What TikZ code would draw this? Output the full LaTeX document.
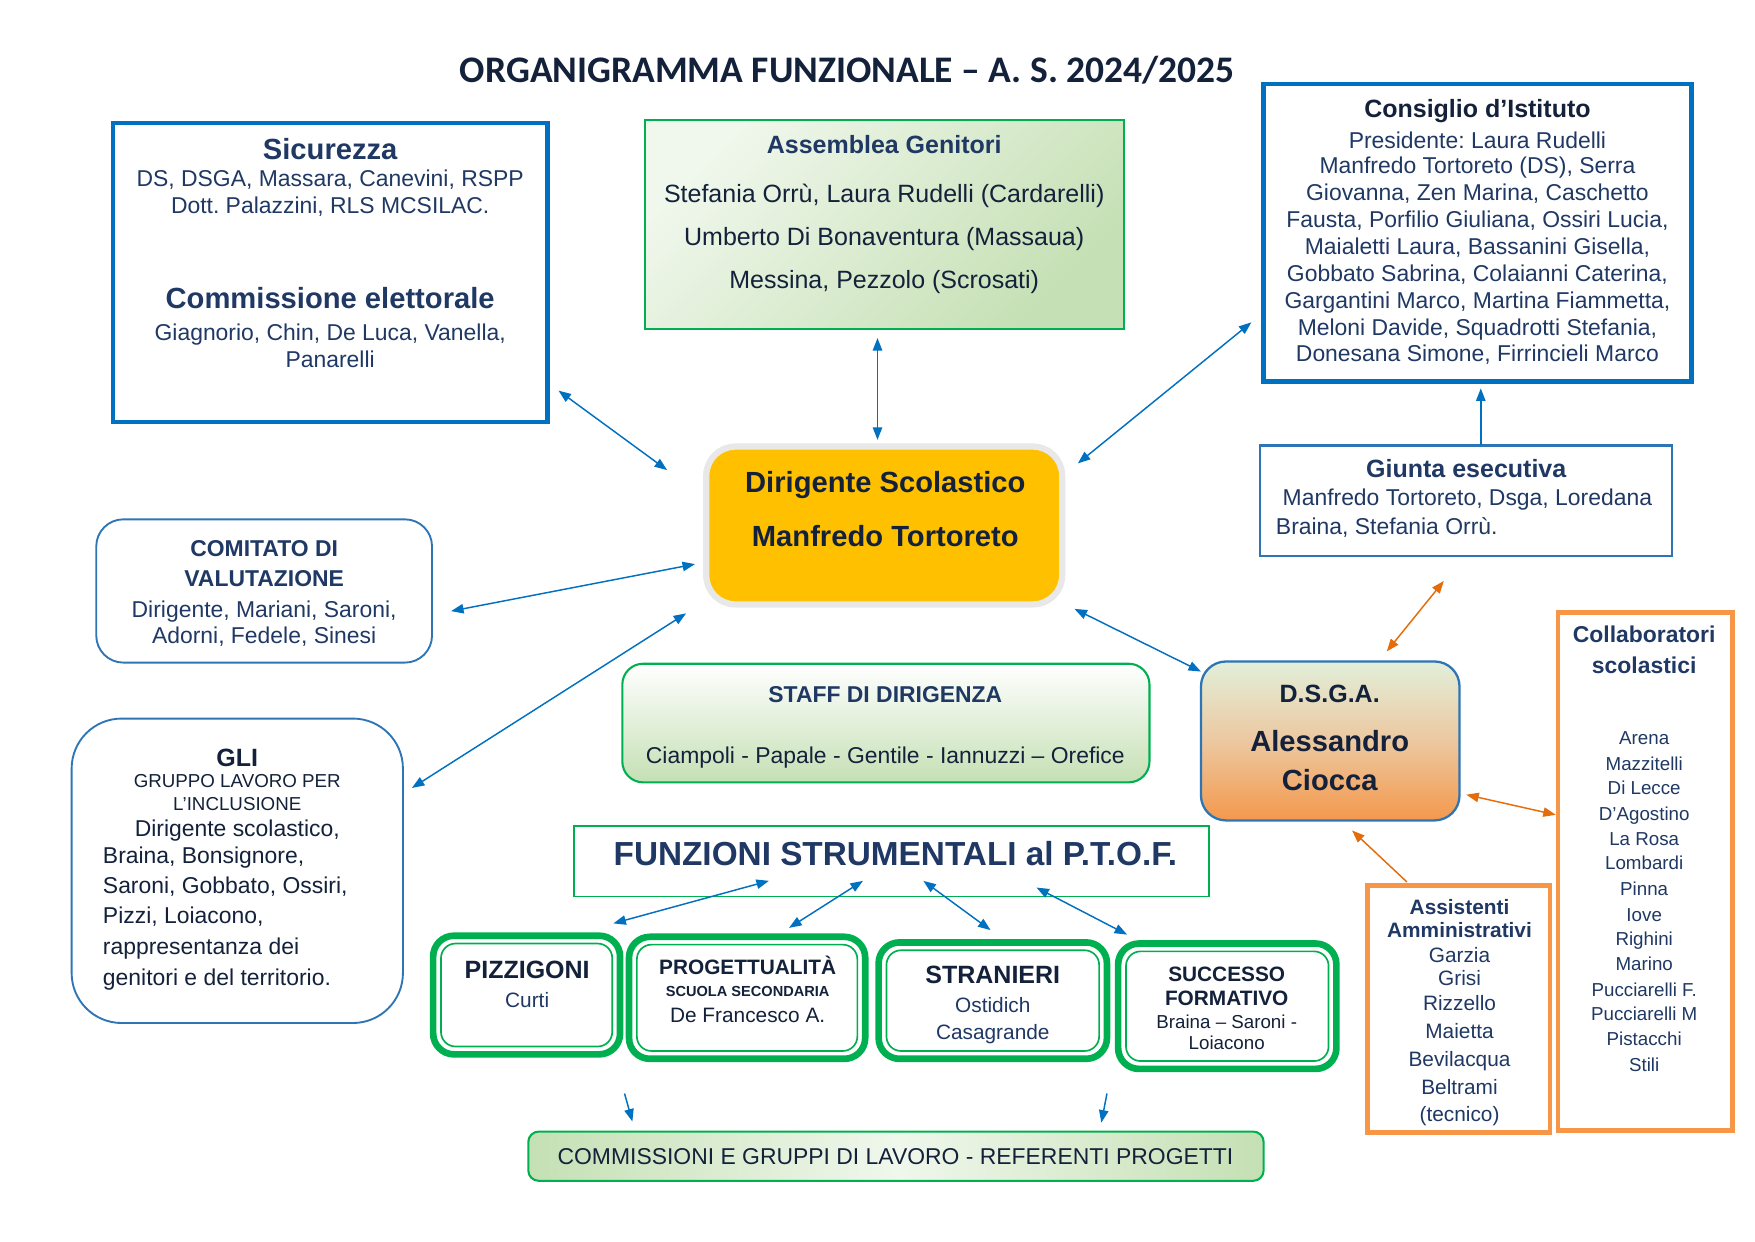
\documentclass[tikz,border=0pt]{standalone}
\usepackage{fontspec}
\setmainfont{Liberation Sans}
\newfontfamily\titlefont{Carlito}
\usetikzlibrary{arrows.meta,calc}
\frenchspacing
\definecolor{navy}{RGB}{31,56,100}
\definecolor{darknavy}{RGB}{19,33,58}
\definecolor{tblue}{RGB}{0,112,192}
\definecolor{mblue}{RGB}{46,117,182}
\definecolor{gr}{RGB}{0,176,80}
\definecolor{lgr}{RGB}{197,224,180}
\definecolor{llgr}{RGB}{240,247,236}
\definecolor{orn}{RGB}{247,150,70}
\definecolor{orarrow}{RGB}{228,108,10}
\definecolor{dsyel}{RGB}{255,192,0}
\definecolor{dsgray}{RGB}{232,232,232}
\definecolor{dsgatop}{RGB}{226,239,218}
\definecolor{dsgamid}{RGB}{236,200,160}
\definecolor{dsgabot}{RGB}{244,152,76}
\newcommand\TL[8]{\node[anchor=#2,inner sep=0pt,text=#7,font=\fontsize{#5}{#5}\selectfont#6] (#1) at (#3,{#4+0.67*#5}) {#8};}
\newcommand\BX[6]{\node[#2,minimum width={(#5-#3)*0.5373pt},minimum height={(#6-#4)*0.5373pt}] (#1) at ({(#3+#5)/2},{(#4+#6)/2}) {};}
\tikzset{
  every node/.style={inner sep=0pt,outer sep=0pt},
  thickblue/.style={draw=tblue,line width=2.2pt,rectangle},
  thinblue/.style={draw=mblue,line width=1.1pt,rectangle},
  roundblue/.style={draw=mblue,line width=0.9pt,rectangle,rounded corners=13pt},
  gliblue/.style={draw=mblue,line width=0.9pt,rectangle,rounded corners=24pt},
  assbox/.style={draw=gr,line width=1pt,rectangle,top color=llgr,bottom color=lgr,shading angle=45},
  staffbox/.style={draw=gr,line width=1pt,rectangle,rounded corners=10pt,top color=white,bottom color=lgr},
  funzbox/.style={draw=gr,line width=0.8pt,rectangle},
  dsbox/.style={draw=dsgray,line width=3pt,fill=dsyel,rectangle,rounded corners=14pt},
  dsgabox/.style={draw=mblue,line width=1.1pt,rectangle,rounded corners=12pt,top color=dsgatop,bottom color=dsgabot,middle color=dsgamid},
  orbox/.style={draw=orn,line width=2.2pt,rectangle},
  gout/.style={draw=gr,line width=3.2pt,rectangle,rounded corners=10pt},
  gin/.style={draw=gr,line width=0.8pt,rectangle,rounded corners=7pt},
  commbox/.style={draw=gr,line width=1pt,rectangle,rounded corners=5pt,left color=lgr,right color=lgr,middle color=llgr},
  barr/.style={draw=tblue,line width=0.7pt,>={Triangle[length=6pt,width=4.5pt]},<->},
  sarr/.style={draw=tblue,line width=0.7pt,>={Triangle[length=6pt,width=4.5pt]},->},
  oarr/.style={draw=orarrow,line width=0.7pt,>={Triangle[length=6pt,width=4.5pt]},<->},
  soarr/.style={draw=orarrow,line width=0.7pt,>={Triangle[length=6pt,width=4.5pt]},->},
}
\begin{document}
\begin{tikzpicture}[x=0.5373pt,y=-0.5373pt]
\useasboundingbox (0,0) rectangle (1568,1109);
\fill[white] (0,0) rectangle (1568,1109);

% title
\node[anchor=base,text=darknavy,font=\titlefont\fontsize{18}{18}\selectfont\bfseries] (title) at (757,{62+0.67*18}) {ORGANIGRAMMA FUNZIONALE – A. S. 2024/2025};

% Sicurezza
\BX{sic}{thickblue}{101}{110}{489}{377}
\TL{sic1}{base}{295}{133}{14}{\bfseries}{navy}{Sicurezza}
\TL{sic2}{base}{295}{159}{11}{}{navy}{DS, DSGA, Massara, Canevini, RSPP}
\TL{sic3}{base}{295}{183}{11}{}{navy}{Dott. Palazzini, RLS MCSILAC.}
\TL{sic4}{base}{295}{266}{14}{\bfseries}{navy}{Commissione elettorale}
\TL{sic5}{base}{295}{297}{11}{}{navy}{Giagnorio, Chin, De Luca, Vanella,}
\TL{sic6}{base}{295}{321}{11}{}{navy}{Panarelli}

% Assemblea
\BX{ass}{assbox}{576}{107}{1004}{294}
\TL{ass1}{base}{790}{129}{12}{\bfseries}{navy}{Assemblea Genitori}
\TL{ass2}{base}{790}{173}{12}{}{darknavy}{Stefania Orrù, Laura Rudelli (Cardarelli)}
\TL{ass3}{base}{790}{211}{12}{}{darknavy}{Umberto Di Bonaventura (Massaua)}
\TL{ass4}{base}{790}{250}{12}{}{darknavy}{Messina, Pezzolo (Scrosati)}

% Consiglio
\BX{con}{thickblue}{1129}{75}{1511}{341}
\TL{con0}{base}{1320}{97}{12}{\bfseries}{darknavy}{Consiglio d’Istituto}
\foreach \tx/\yy [count=\k] in {Presidente: Laura Rudelli/125,Manfredo Tortoreto (DS){,} Serra/148,Giovanna{,} Zen Marina{,} Caschetto/172,Fausta{,} Porfilio Giuliana{,} Ossiri Lucia{,}/196,Maialetti Laura{,} Bassanini Gisella{,}/220,Gobbato Sabrina{,} Colaianni Caterina{,}/244,Gargantini Marco{,} Martina Fiammetta{,}/268,Meloni Davide{,} Squadrotti Stefania{,}/292,Donesana Simone{,} Firrincieli Marco/316}
  {\TL{con\k}{base}{1320}{\yy}{11}{}{navy}{\tx}}

% Dirigente
\BX{ds}{dsbox}{631}{399}{949}{540}
\TL{ds1}{base}{791}{431}{14}{\bfseries}{darknavy}{Dirigente Scolastico}
\TL{ds2}{base}{791}{479}{14}{\bfseries}{darknavy}{Manfredo Tortoreto}

% Giunta
\BX{giu}{thinblue}{1126}{398}{1494}{497}
\TL{giu1}{base}{1310}{419}{12}{\bfseries}{navy}{Giunta esecutiva}
\TL{giu2}{base west}{1146}{444}{11}{}{navy}{Manfredo Tortoreto, Dsga, Loredana}
\TL{giu3}{base west}{1140}{470}{11}{}{navy}{Braina, Stefania Orrù.}

% Comitato
\BX{com}{roundblue}{86}{464}{386}{592}
\TL{com1}{base}{236}{490}{11}{\bfseries}{navy}{COMITATO DI}
\TL{com2}{base}{236}{517}{11}{\bfseries}{navy}{VALUTAZIONE}
\TL{com3}{base}{236}{544}{11}{}{navy}{Dirigente, Mariani, Saroni,}
\TL{com4}{base}{236}{568}{11}{}{navy}{Adorni, Fedele, Sinesi}

% GLI
\BX{gli}{gliblue}{64}{642}{360}{914}
\TL{gli1}{base}{212}{677}{12}{\bfseries}{darknavy}{GLI}
\TL{gli2}{base}{212}{698}{9}{}{darknavy}{GRUPPO LAVORO PER}
\TL{gli3}{base}{212}{718}{9}{}{darknavy}{L'INCLUSIONE}
\TL{gli4}{base}{212}{740}{11}{}{darknavy}{Dirigente scolastico,}
\TL{gli5}{base west}{92}{764}{11}{}{darknavy}{Braina, Bonsignore,}
\TL{gli6}{base west}{92}{791}{11}{}{darknavy}{Saroni, Gobbato, Ossiri,}
\TL{gli7}{base west}{92}{818}{11}{}{darknavy}{Pizzi, Loiacono,}
\TL{gli8}{base west}{92}{845}{11}{}{darknavy}{rappresentanza dei}
\TL{gli9}{base west}{92}{873}{11}{}{darknavy}{genitori e del territorio.}

% Staff
\BX{sta}{staffbox}{556}{593}{1027}{699}
\TL{sta1}{base}{791}{620}{11}{\bfseries}{navy}{STAFF DI DIRIGENZA}
\TL{sta2}{base}{791}{675}{11}{}{darknavy}{Ciampoli - Papale - Gentile - Iannuzzi – Orefice}

% DSGA
\BX{dsga}{dsgabox}{1073}{591}{1304}{733}
\TL{dsga1}{base}{1188}{620}{12}{\bfseries}{darknavy}{D.S.G.A.}
\TL{dsga2}{base}{1188}{662}{14}{\bfseries}{darknavy}{Alessandro}
\TL{dsga3}{base}{1188}{697}{14}{\bfseries}{darknavy}{Ciocca}

% Collaboratori
\BX{col}{orbox}{1392}{547}{1548}{1010}
\TL{colt1}{base}{1469}{567}{11}{\bfseries}{navy}{Collaboratori}
\TL{colt2}{base}{1469}{594}{11}{\bfseries}{navy}{scolastici}
\foreach \nm/\yy [count=\k] in {Arena/659,Mazzitelli/682,Di Lecce/704,D’Agostino/727,La Rosa/749,Lombardi/771,Pinna/794,Iove/817,Righini/839,Marino/861,Pucciarelli F./884,Pucciarelli M/906,Pistacchi/928,Stili/951}
  {\TL{col\k}{base}{1469}{\yy}{9}{}{navy}{\nm}}

% Assistenti
\BX{asi}{orbox}{1222}{791}{1385}{1012}
\TL{asit1}{base}{1304}{810}{10}{\bfseries}{navy}{Assistenti}
\TL{asit2}{base}{1304}{831}{10}{\bfseries}{navy}{Amministrativi}
\foreach \nm/\yy [count=\k] in {Garzia/853,Grisi/874,Rizzello/896,Maietta/921,Bevilacqua/946,Beltrami/971,(tecnico)/995}
  {\TL{asi\k}{base}{1304}{\yy}{10}{}{navy}{\nm}}

% Funzioni
\BX{fun}{funzbox}{513}{738}{1080}{801}
\TL{fun1}{base}{800}{763}{16}{\bfseries}{navy}{FUNZIONI STRUMENTALI al P.T.O.F.}

% green double boxes
\BX{piz}{gout}{387}{836}{554}{942}
\BX{pizi}{gin}{394}{843}{547}{935}
\TL{piz1}{base}{471}{866}{12}{\bfseries}{darknavy}{PIZZIGONI}
\TL{piz2}{base}{471}{893}{10}{}{navy}{Curti}

\BX{pro}{gout}{562}{837}{773}{946}
\BX{proi}{gin}{569}{844}{766}{939}
\TL{pro1}{base}{668}{864}{10}{\bfseries}{darknavy}{PROGETTUALITÀ}
\TL{pro2}{base}{668}{886}{7}{\bfseries}{darknavy}{SCUOLA SECONDARIA}
\TL{pro3}{base}{668}{907}{10}{}{darknavy}{De Francesco A.}

\BX{str}{gout}{785}{842}{989}{946}
\BX{stri}{gin}{792}{849}{982}{939}
\TL{str1}{base}{887}{871}{12}{\bfseries}{darknavy}{STRANIERI}
\TL{str2}{base}{887}{898}{10}{}{navy}{Ostidich}
\TL{str3}{base}{887}{922}{10}{}{navy}{Casagrande}

\BX{suc}{gout}{999}{843}{1194}{955}
\BX{suci}{gin}{1006}{850}{1187}{948}
\TL{suc1}{base}{1096}{870}{10}{\bfseries}{darknavy}{SUCCESSO}
\TL{suc2}{base}{1096}{892}{10}{\bfseries}{darknavy}{FORMATIVO}
\TL{suc3}{base}{1096}{913}{9}{}{darknavy}{Braina – Saroni -}
\TL{suc4}{base}{1096}{932}{9}{}{darknavy}{Loiacono}

% Commissioni
\BX{cmm}{commbox}{472}{1011}{1129}{1055}
\TL{cmm1}{base}{800}{1033}{11}{}{darknavy}{COMMISSIONI E GRUPPI DI LAVORO - REFERENTI PROGETTI}

% arrow end points
\coordinate (a1) at (499,349);  \coordinate (b1) at (596,420);
\coordinate (a2) at (784,302);  \coordinate (b2) at (784,393);
\coordinate (a3) at (1118,288); \coordinate (b3) at (963,414);
\coordinate (a4) at (403,546);  \coordinate (b4) at (621,504);
\coordinate (a5) at (368,704);  \coordinate (b5) at (613,548);
\coordinate (a6) at (960,544);  \coordinate (b6) at (1073,600);
\coordinate (a7) at (1323,398); \coordinate (b7) at (1323,347);
\coordinate (a8) at (1290,519); \coordinate (b8) at (1239,582);
\coordinate (a9) at (1310,710); \coordinate (b9) at (1390,728);
\coordinate (a10) at (1257,788); \coordinate (b10) at (1208,742);
\coordinate (f1) at (687,787);  \coordinate (g1) at (548,825);
\coordinate (f2) at (771,787);  \coordinate (g2) at (705,829);
\coordinate (f3) at (825,787);  \coordinate (g3) at (885,831);
\coordinate (f4) at (926,793);  \coordinate (g4) at (1007,835);
\coordinate (h1) at (558,977);  \coordinate (k1) at (565,1002);
\coordinate (h2) at (989,977);  \coordinate (k2) at (984,1003);

\draw[barr] (a1) -- (b1);
\draw[barr] (a2) -- (b2);
\draw[barr] (a3) -- (b3);
\draw[barr] (a4) -- (b4);
\draw[barr] (a5) -- (b5);
\draw[barr] (a6) -- (b6);
\draw[sarr] (a7) -- (b7);
\draw[oarr] (a8) -- (b8);
\draw[oarr] (a9) -- (b9);
\draw[soarr] (a10) -- (b10);
\draw[barr] (f1) -- (g1);
\draw[barr] (f2) -- (g2);
\draw[barr] (f3) -- (g3);
\draw[barr] (f4) -- (g4);
\draw[sarr] (h1) -- (k1);
\draw[sarr] (h2) -- (k2);
\end{tikzpicture}
\end{document}
